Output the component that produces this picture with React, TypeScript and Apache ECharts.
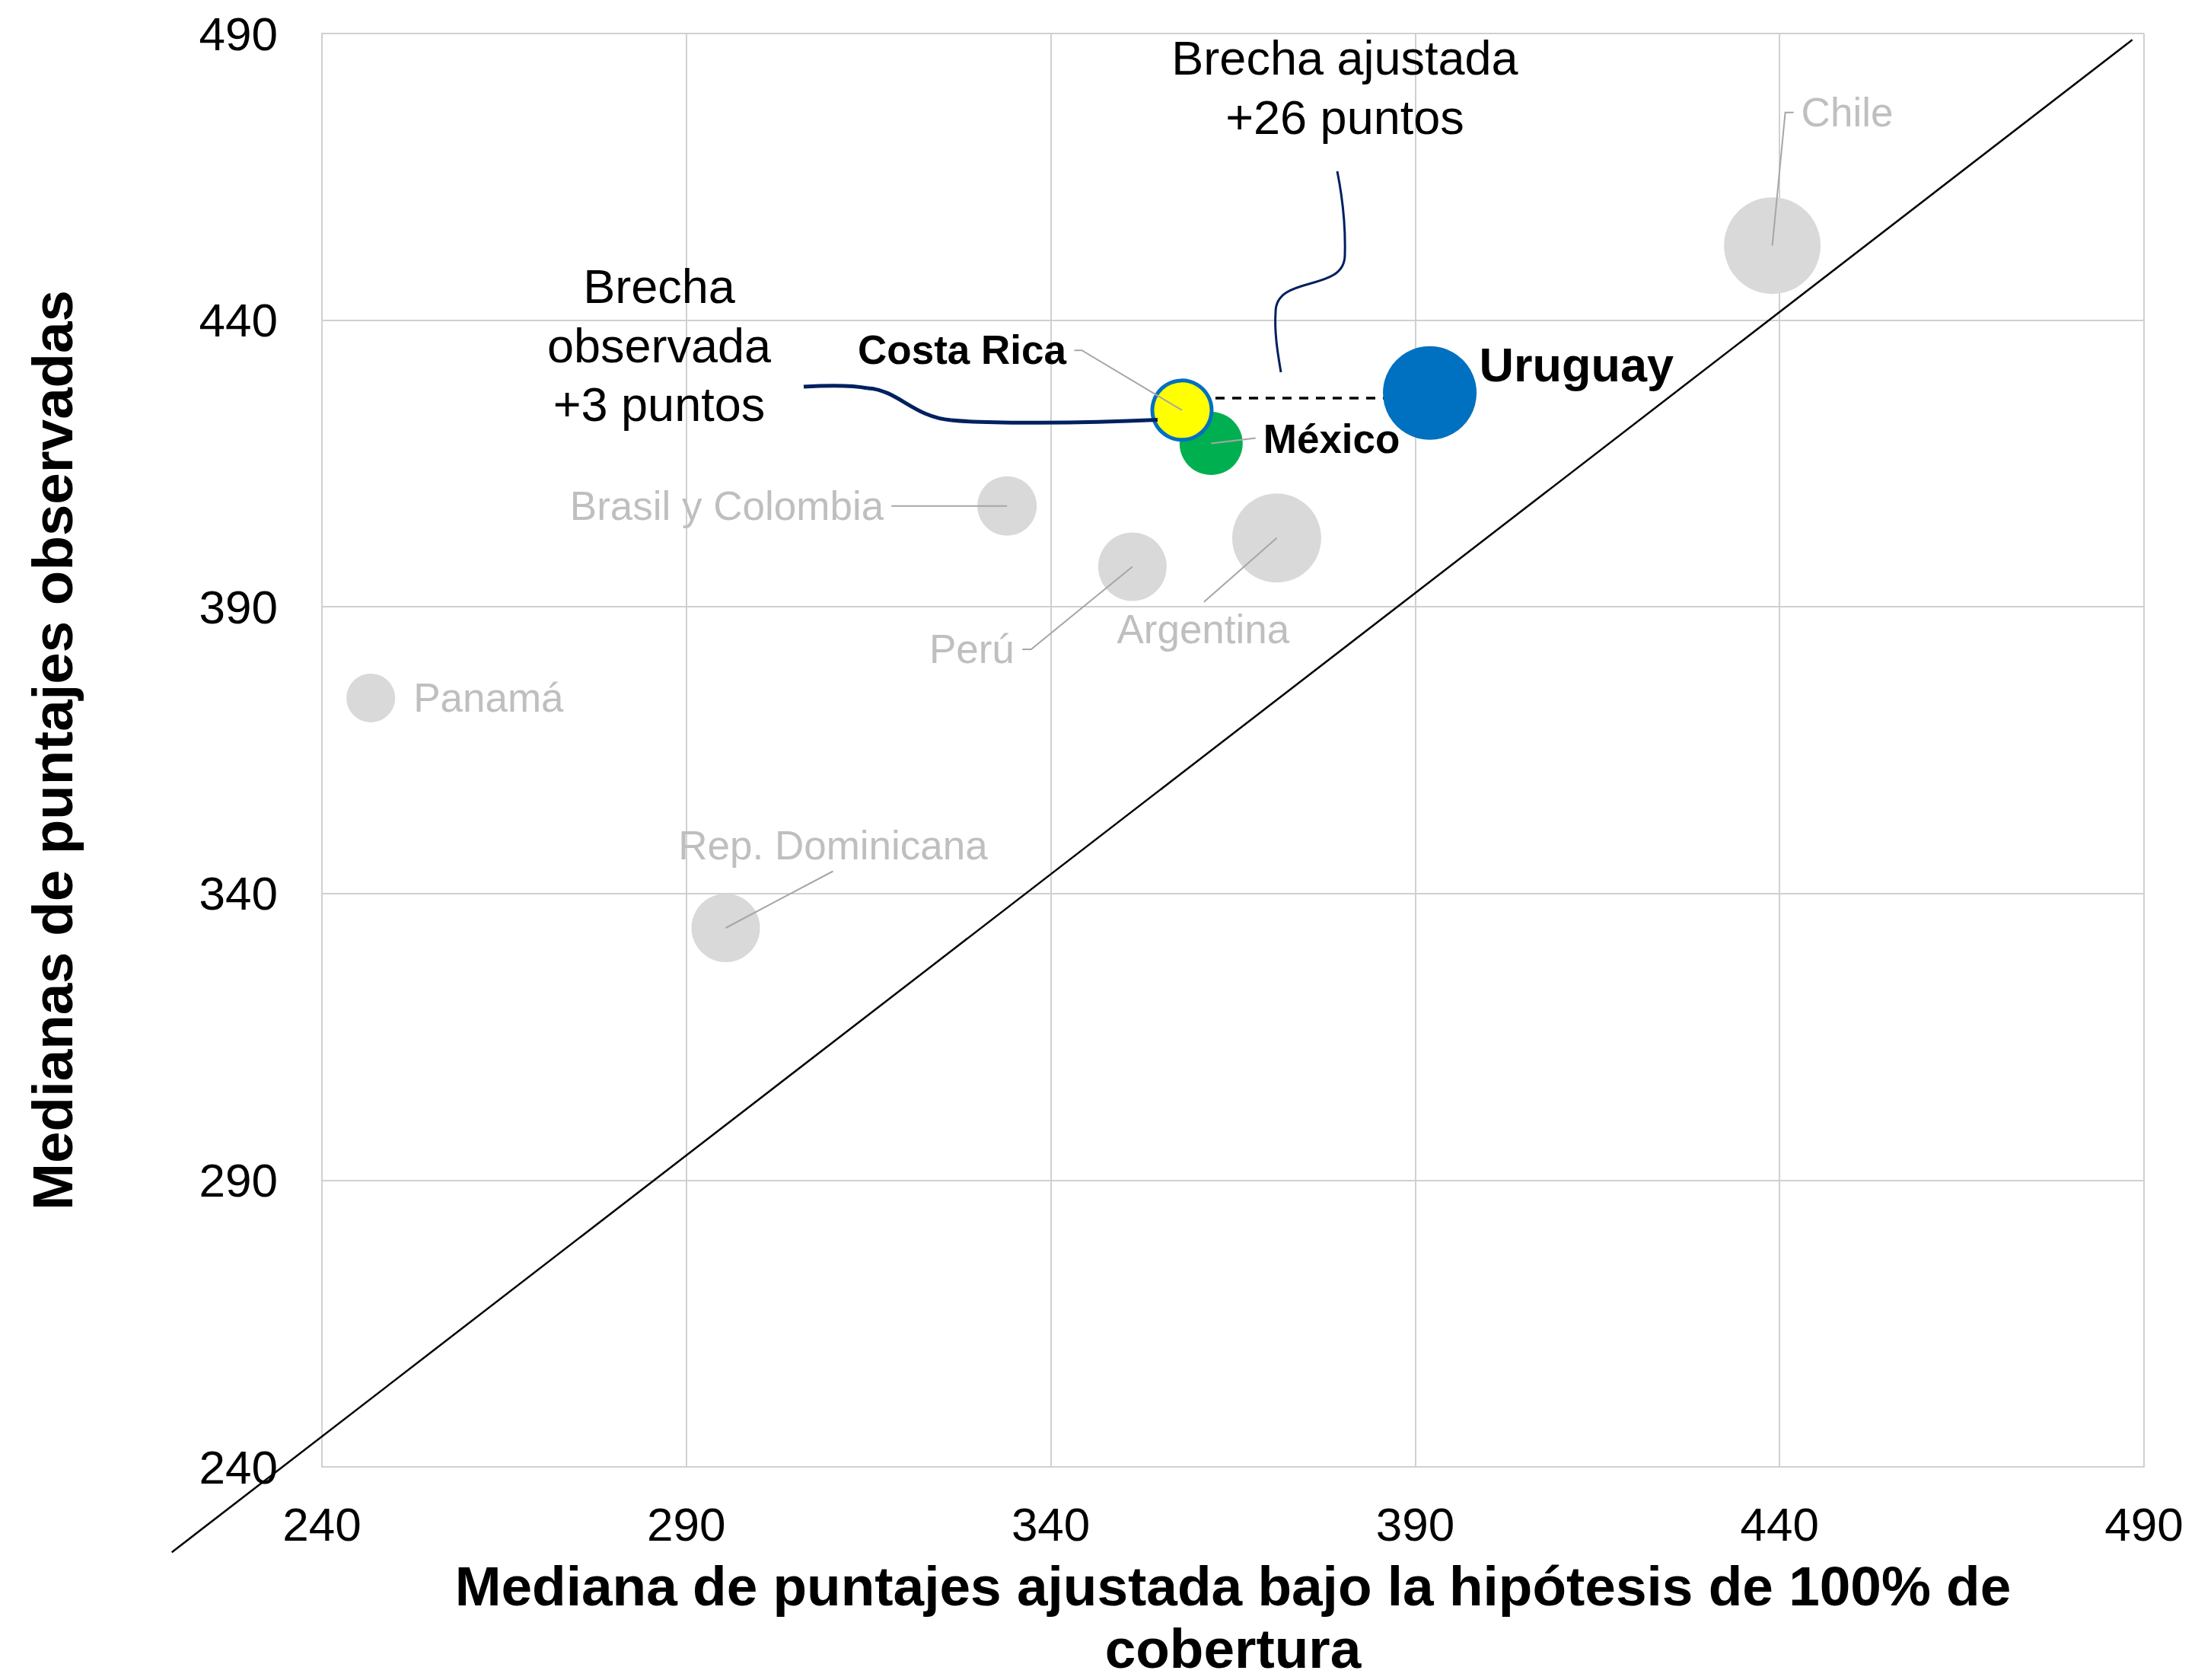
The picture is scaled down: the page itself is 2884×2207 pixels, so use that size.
import React, { useEffect, useRef } from "react";
import * as echarts from "echarts";

// ---------- DATA ----------
const countries = ["Chile", "Uruguay", "Costa Rica", "México", "Brasil y Colombia", "Perú", "Argentina", "Panamá", "Rep. Dominicana"];
// Mediana de puntajes ajustada (100% cobertura)
const adjustedMedian = [439.0, 392.0, 358.0, 362.0, 334.0, 351.2, 371.0, 246.7, 295.4];
// Mediana de puntajes observada
const observedMedian = [453.0, 427.3, 424.3, 418.5, 407.6, 397.0, 402.0, 374.1, 334.0];
// bubble magnitude
const bubbleWeight = [127, 123, 78, 83, 78, 90, 117, 64, 90];
// reference (≈ 45°) line end points
const diagonalX = [219.4, 488.4];
const diagonalY = [225.1, 488.9];
// level of the dashed "brecha" line between Costa Rica and Uruguay
const gapLineLevel = 426.4;
const axisMin = 240;
const axisMax = 490;
const axisStep = 50;

// ---------- STYLE / LAYOUT (reference frame 2884 x 2207) ----------
const REF_W = 2884;
const REF_H = 2207;
const FONT = "'Liberation Sans', Arial, Helvetica, sans-serif";
const GRAY_BUBBLE = "#d9d9d9";
const GRAY_TEXT = "#bfbfbf";
const LEADER = "#a6a6a6";
const NAVY = "#002060";
const GRID_COLOR = "#d0d0d0";

const drawOrder = ["Chile", "Brasil y Colombia", "Perú", "Argentina", "Panamá", "Rep. Dominicana", "Uruguay", "México", "Costa Rica"];

const pointStyle: Record<string, any> = {
  Uruguay: { color: "#0070c0" },
  "México": { color: "#00b050" },
  "Costa Rica": { color: "#ffff00", borderColor: "#0070c0", borderWidth: 5 },
};

type LabelSpec = { text: [number, number]; align: string; leader?: [number, number][]; kind: "gray" | "bold" | "big" };
const labelSpec: Record<string, LabelSpec> = {
  Chile: { text: [38, -175], align: "left", leader: [[17, -175], [28, -175]], kind: "gray" },
  "Brasil y Colombia": { text: [-162, 0], align: "right", leader: [[-152, 0]], kind: "gray" },
  "Perú": { text: [-155, 108.5], align: "right", leader: [[-133, 108.5], [-144.5, 108.5]], kind: "gray" },
  Argentina: { text: [-96.6, 120], align: "center", leader: [[-95.6, 84]], kind: "gray" },
  "Panamá": { text: [56, 0], align: "left", kind: "gray" },
  "Rep. Dominicana": { text: [141, -108], align: "center", leader: [[141, -74.5]], kind: "gray" },
  "Costa Rica": { text: [-152, -79], align: "right", leader: [[-131.6, -78.6], [-141.5, -78.6]], kind: "bold" },
  "México": { text: [68.5, -6.5], align: "left", leader: [[58.5, -7]], kind: "bold" },
  Uruguay: { text: [65, -37], align: "left", kind: "big" },
};

const labelText: Record<string, any> = {
  gray: { fill: GRAY_TEXT, fontSize: 53, fontWeight: "normal" },
  bold: { fill: "#000000", fontSize: 53, fontWeight: "bold" },
  big: { fill: "#000000", fontSize: 63, fontWeight: "bold" },
};

// annotation curves (reference-frame pixels), cubic segments [p0, c1, c2, p1]
const adjustedBrace = [
  [[1757, 225], [1764, 260], [1768, 300], [1767, 335]],
  [[1767, 335], [1767, 385], [1676, 360], [1676, 410]],
  [[1676, 410], [1674, 440], [1680, 470], [1683, 489]],
];
const observedCurve = [
  [[1056, 508], [1090, 506], [1120, 506], [1140, 510]],
  [[1140, 510], [1180, 512], [1200, 548], [1250, 552]],
  [[1250, 552], [1300, 557], [1420, 556], [1521, 551.5]],
];

export default function App() {
  const ref = useRef<HTMLDivElement>(null);

  useEffect(() => {
    if (!ref.current) return;
    document.body.style.margin = "0";
    document.documentElement.style.overflow = "hidden";
    document.body.style.overflow = "hidden";
    const chart = echarts.init(ref.current, null, { renderer: "svg" });
    const W = chart.getWidth();
    const H = chart.getHeight();
    const sx = W / REF_W;
    const sy = H / REF_H;
    const X = (v: number) => v * sx;
    const Y = (v: number) => v * sy;

    const scatterData = drawOrder.map((name) => {
      const i = countries.indexOf(name);
      const st = pointStyle[name] || { color: GRAY_BUBBLE };
      return {
        name,
        value: [adjustedMedian[i], observedMedian[i], bubbleWeight[i]],
        itemStyle: { ...st, opacity: 1 },
      };
    });

    const iCR = countries.indexOf("Costa Rica");
    const iUY = countries.indexOf("Uruguay");

    const axisCommon = {
      type: "value",
      min: axisMin,
      max: axisMax,
      interval: axisStep,
      axisTick: { show: false },
      axisLine: { show: true, lineStyle: { color: GRID_COLOR, width: 2 } },
      splitLine: { show: true, lineStyle: { color: GRID_COLOR, width: 2 } },
    };

    const option: any = {
      animation: false,
      backgroundColor: "#ffffff",
      textStyle: { fontFamily: FONT },
      grid: {
        left: X(423),
        top: Y(44),
        width: X(2394),
        height: Y(1883),
        containLabel: false,
        outerBoundsMode: "none",
      },
      xAxis: {
        ...axisCommon,
        axisLabel: { fontSize: 62, color: "#000", fontFamily: FONT, margin: Y(44) },
        name: "Mediana de puntajes ajustada bajo la hipótesis de 100% de\ncobertura",
        nameLocation: "middle",
        nameGap: Y(115),
        nameTextStyle: { fontSize: 73, fontWeight: "bold", color: "#000", fontFamily: FONT, lineHeight: 82 },
      },
      yAxis: {
        ...axisCommon,
        axisLabel: { fontSize: 62, color: "#000", fontFamily: FONT, margin: X(58) },
        name: "Medianas de puntajes observadas",
        nameLocation: "middle",
        nameGap: X(316),
        nameTextStyle: { fontSize: 74.5, fontWeight: "bold", color: "#000", fontFamily: FONT },
      },
      series: [
        {
          type: "line",
          data: [
            [adjustedMedian[iCR], gapLineLevel],
            [adjustedMedian[iUY], gapLineLevel],
          ],
          symbol: "none",
          silent: true,
          z: 2,
          lineStyle: { color: "#000", width: 3.5, type: [12, 10] },
        },
        {
          type: "scatter",
          data: scatterData,
          symbol: "circle",
          symbolSize: (v: number[]) => v[2],
          z: 3,
          label: { show: false },
        },
      ],
    };

    chart.setOption(option);

    const toPx = (x: number, y: number) => chart.convertToPixel({ gridIndex: 0 }, [x, y]) as number[];

    const elements: any[] = [];

    // 45° reference line, extends beyond the plot area
    const d0 = toPx(diagonalX[0], diagonalY[0]);
    const d1 = toPx(diagonalX[1], diagonalY[1]);
    elements.push({
      type: "line",
      z: 5,
      shape: { x1: d0[0], y1: d0[1], x2: d1[0], y2: d1[1] },
      style: { stroke: "#000", lineWidth: 2.5 },
    });

    drawOrder.forEach((name) => {
      const i = countries.indexOf(name);
      const c = toPx(adjustedMedian[i], observedMedian[i]);
      const spec = labelSpec[name];
      if (spec.leader) {
        const pts = [[c[0], c[1]], ...spec.leader.map((o) => [c[0] + X(o[0]), c[1] + Y(o[1])])];
        elements.push({
          type: "polyline",
          z: 110,
          shape: { points: pts },
          style: { stroke: LEADER, lineWidth: 2, fill: null },
        });
      }
      const ts = labelText[spec.kind];
      elements.push({
        type: "text",
        z: 115,
        x: c[0] + X(spec.text[0]),
        y: c[1] + Y(spec.text[1]),
        style: {
          text: name,
          fill: ts.fill,
          fontSize: ts.fontSize,
          fontWeight: ts.fontWeight,
          fontFamily: FONT,
          align: spec.align,
          verticalAlign: "middle",
        },
      });
    });

    // annotation texts
    elements.push({
      type: "text",
      z: 115,
      x: X(1767),
      y: Y(114.5),
      style: {
        text: "Brecha ajustada\n+26 puntos",
        fill: "#000",
        fontSize: 63,
        fontFamily: FONT,
        align: "center",
        verticalAlign: "middle",
        lineHeight: 78,
      },
    });
    elements.push({
      type: "text",
      z: 115,
      x: X(866),
      y: Y(453.5),
      style: {
        text: "Brecha\nobservada\n+3 puntos",
        fill: "#000",
        fontSize: 63,
        fontFamily: FONT,
        align: "center",
        verticalAlign: "middle",
        lineHeight: 77.5,
      },
    });

    const addCurve = (segs: number[][][], width: number) => {
      segs.forEach((s) => {
        elements.push({
          type: "bezierCurve",
          z: 120,
          shape: {
            x1: X(s[0][0]), y1: Y(s[0][1]),
            cpx1: X(s[1][0]), cpy1: Y(s[1][1]),
            cpx2: X(s[2][0]), cpy2: Y(s[2][1]),
            x2: X(s[3][0]), y2: Y(s[3][1]),
          },
          style: { stroke: NAVY, lineWidth: width, fill: null },
        });
      });
    };
    addCurve(adjustedBrace, 3);
    addCurve(observedCurve, 5);

    chart.setOption({ graphic: { elements } });

    return () => {
      chart.dispose();
    };
  }, []);

  return (
    <div
      ref={ref}
      style={{ position: "fixed", left: 0, top: 0, width: "100vw", height: "100vh", background: "#fff" }}
    />
  );
}
